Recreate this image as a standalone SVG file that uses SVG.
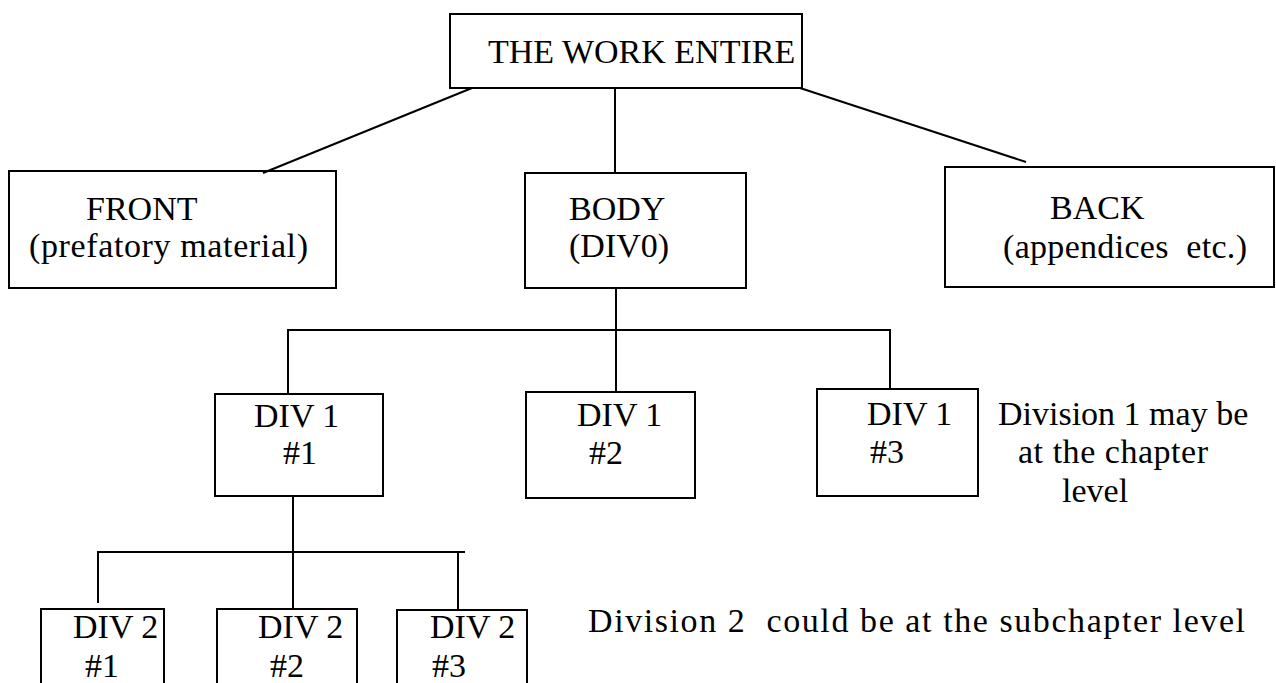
<svg xmlns="http://www.w3.org/2000/svg" width="1276" height="683" viewBox="0 0 1276 683">
<style>
.box{fill:none;stroke:#000;stroke-width:2}
.ln{fill:none;stroke:#000;stroke-width:2}
.t{font-family:"Liberation Serif","Times New Roman",serif;font-size:34px;fill:#000;white-space:pre}
</style>
<rect width="1276" height="683" fill="#fff"/>
<g id="connectors">
<line class="ln" x1="472" y1="88" x2="263" y2="173"/>
<line class="ln" x1="615" y1="88" x2="615" y2="173"/>
<line class="ln" x1="800" y1="88" x2="1026" y2="162"/>
<line class="ln" x1="616" y1="288" x2="616" y2="392"/>
<polyline class="ln" points="288,394 288,330 890,330 890,389"/>
<line class="ln" x1="293" y1="496" x2="293" y2="609"/>
<polyline class="ln" points="98,603 98,552 465,552"/>
<line class="ln" x1="458" y1="552" x2="458" y2="610"/>
</g>
<g id="work">
<rect class="box" x="450" y="14" width="352" height="74"/>
<text class="t" x="488" y="63">THE WORK ENTIRE</text>
</g>
<g id="front">
<rect class="box" x="9" y="171" width="327" height="117"/>
<text class="t" x="86" y="220">FRONT</text>
<text class="t" x="29" y="257" textLength="279" lengthAdjust="spacing">(prefatory material)</text>
</g>
<g id="body">
<rect class="box" x="525" y="173" width="221" height="115"/>
<text class="t" x="569" y="220">BODY</text>
<text class="t" x="569" y="257">(DIV0)</text>
</g>
<g id="back">
<rect class="box" x="945" y="167" width="329" height="120"/>
<text class="t" x="1050" y="219">BACK</text>
<text class="t" x="1003" y="258" textLength="244" lengthAdjust="spacing">(appendices  etc.)</text>
</g>
<g id="div1-1">
<rect class="box" x="215" y="394" width="168" height="102"/>
<text class="t" x="254" y="427">DIV 1</text>
<text class="t" x="283" y="464">#1</text>
</g>
<g id="div1-2">
<rect class="box" x="526" y="392" width="169" height="106"/>
<text class="t" x="577" y="426">DIV 1</text>
<text class="t" x="589" y="464">#2</text>
</g>
<g id="div1-3">
<rect class="box" x="817" y="389" width="161" height="107"/>
<text class="t" x="867" y="425">DIV 1</text>
<text class="t" x="870" y="463">#3</text>
</g>
<g id="note1">
<text class="t" x="998" y="425">Division 1 may be</text>
<text class="t" x="1018" y="463" textLength="190" lengthAdjust="spacing">at the chapter</text>
<text class="t" x="1062" y="502">level</text>
</g>
<g id="div2-1">
<rect class="box" x="41" y="609" width="123" height="80"/>
<text class="t" x="73" y="638">DIV 2</text>
<text class="t" x="85" y="677">#1</text>
</g>
<g id="div2-2">
<rect class="box" x="217" y="609" width="140" height="80"/>
<text class="t" x="258" y="638">DIV 2</text>
<text class="t" x="270" y="677">#2</text>
</g>
<g id="div2-3">
<rect class="box" x="397" y="610" width="130" height="80"/>
<text class="t" x="430" y="638">DIV 2</text>
<text class="t" x="432" y="677">#3</text>
</g>
<g id="note2">
<text class="t" x="588" y="632" textLength="657" lengthAdjust="spacing">Division 2  could be at the subchapter level</text>
</g>
</svg>
